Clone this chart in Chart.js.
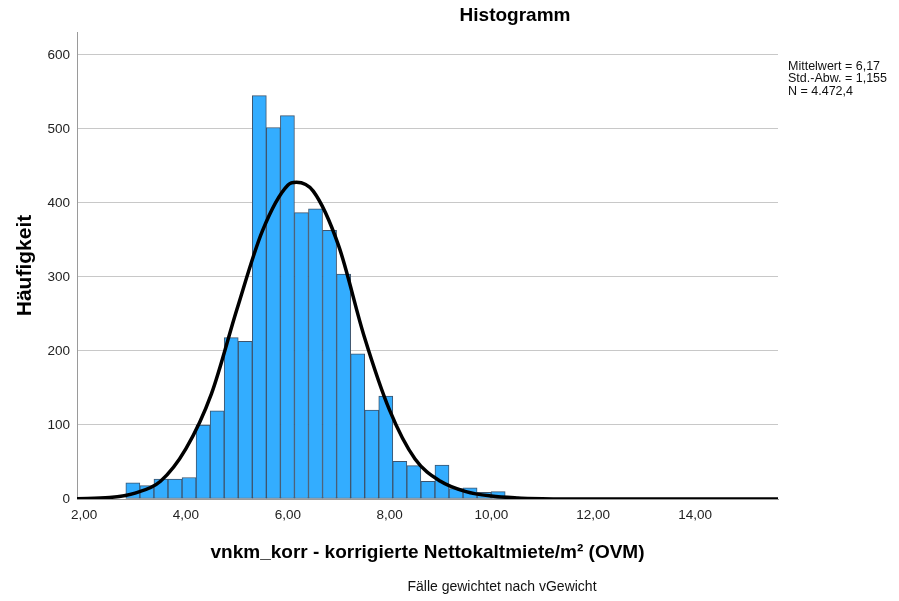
<!DOCTYPE html>
<html>
<head>
<meta charset="utf-8">
<script src="https://cdn.jsdelivr.net/npm/chart.js@4/dist/chart.umd.min.js"></script>
<style>
  html, body { margin: 0; padding: 0; background: #ffffff; }
  #wrap { width: 899px; height: 601px; position: relative; }
</style>
</head>
<body>
<div id="wrap"><canvas id="c" width="899" height="601"></canvas></div>
<script>
// ---- data ----
const binCenters = [2.957, 3.233, 3.509, 3.785, 4.061, 4.337, 4.613, 4.889, 5.165, 5.441,
                    5.717, 5.993, 6.269, 6.545, 6.821, 7.097, 7.373, 7.649, 7.925, 8.201,
                    8.477, 8.753, 9.029, 9.305, 9.581, 9.857, 10.133, 10.409];
const binCounts  = [22, 18, 27, 27, 29, 100, 119, 218, 213, 545,
                    502, 518, 387, 392, 363, 304, 196, 120, 139, 51,
                    45, 24, 46, 14, 15, 9, 10, 3];
const curveX = [1.86, 2.5, 3.0, 3.5, 4.0, 4.5, 5.0, 5.5, 6.0, 6.17, 6.5, 7.0, 7.5, 8.0, 8.5, 9.0, 9.5, 10.0, 10.5, 11.0, 12.0, 13.0, 15.63];
const curveY = [0.5, 2, 8, 24, 68, 142, 256, 362, 424, 428, 416, 342, 220, 120, 54, 24, 10, 4, 1.5, 0.5, 0, 0, 0];
const xTickValues = [2, 4, 6, 8, 10, 12, 14];
const xTickLabels = ['2,00', '4,00', '6,00', '8,00', '10,00', '12,00', '14,00'];
const yTickValues = [0, 100, 200, 300, 400, 500, 600];
const yTickLabels = ['0', '100', '200', '300', '400', '500', '600'];
const chartTitle = 'Histogramm';
const statsLines = ['Mittelwert = 6,17', 'Std.-Abw. = 1,155', 'N = 4.472,4'];
const xTitle = 'vnkm_korr - korrigierte Nettokaltmiete/m² (OVM)';
const yTitle = 'Häufigkeit';
const footnote = 'Fälle gewichtet nach vGewicht';

const FONT = '"Liberation Sans", Arial, sans-serif';

const textPlugin = {
  id: 'texts',
  afterDraw(chart) {
    const ctx = chart.ctx;
    ctx.save();
    ctx.fillStyle = '#000';
    ctx.textBaseline = 'alphabetic';
    ctx.textAlign = 'center';
    ctx.font = 'bold 19px ' + FONT;
    ctx.fillText(chartTitle, 515, 21);
    ctx.textAlign = 'left';
    ctx.font = '12.5px ' + FONT;
    ctx.fillStyle = '#111';
    statsLines.forEach((s, i) => ctx.fillText(s, 788, 69.5 + i * 12.8));
    ctx.textAlign = 'center';
    ctx.font = '14px ' + FONT;
    ctx.fillText(footnote, 502, 591);
    ctx.restore();
  }
};

const barData = binCenters.map((x, i) => ({ x: x, y: binCounts[i] }));
const lineData = curveX.map((x, i) => ({ x: x, y: curveY[i] }));

new Chart(document.getElementById('c'), {
  type: 'bar',
  data: {
    datasets: [
      {
        type: 'line',
        data: lineData,
        borderColor: '#000000',
        borderWidth: 3.5,
        pointRadius: 0,
        cubicInterpolationMode: 'monotone',
        fill: false,
        order: 0
      },
      {
        type: 'bar',
        data: barData,
        backgroundColor: '#33adff',
        borderColor: '#3d556e',
        borderWidth: 1,
        borderSkipped: false,
        barPercentage: 1.0,
        categoryPercentage: 1.0,
        order: 1
      }
    ]
  },
  options: {
    responsive: false,
    animation: false,
    layout: { padding: { top: 32, right: 121, bottom: 32.6, left: 0 } },
    plugins: {
      legend: { display: false },
      tooltip: { enabled: false },
      title: { display: false }
    },
    scales: {
      x: {
        type: 'linear',
        min: 1.86,
        max: 15.63,
        offset: false,
        afterBuildTicks(scale) { scale.ticks = xTickValues.map(v => ({ value: v })); },
        ticks: {
          padding: 8,
          autoSkip: false,
          maxRotation: 0,
          color: '#222',
          font: { family: FONT, size: 13.5 },
          callback(value) { const i = xTickValues.indexOf(value); return i >= 0 ? xTickLabels[i] : ''; }
        },
        grid: { display: false, offset: false, drawTicks: false },
        border: { display: true, color: '#9a9a9a', width: 1 },
        title: {
          display: true,
          text: xTitle,
          color: '#000',
          font: { family: FONT, size: 19, weight: 'bold' },
          padding: { top: 10.4, bottom: 4 }
        }
      },
      y: {
        type: 'linear',
        min: 0,
        max: 631,
        afterBuildTicks(scale) { scale.ticks = yTickValues.map(v => ({ value: v })); },
        ticks: {
          padding: 7,
          color: '#222',
          font: { family: FONT, size: 13.5 },
          callback(value) { const i = yTickValues.indexOf(value); return i >= 0 ? yTickLabels[i] : ''; }
        },
        grid: { display: true, color: '#c8c8c8', lineWidth: 1, drawTicks: false },
        border: { display: true, color: '#9a9a9a', width: 1 },
        title: {
          display: true,
          text: yTitle,
          color: '#000',
          font: { family: FONT, size: 21, weight: 'bold' },
          padding: { top: 12.4, bottom: 2.9 }
        }
      }
    }
  },
  plugins: [textPlugin]
});
</script>
</body>
</html>
